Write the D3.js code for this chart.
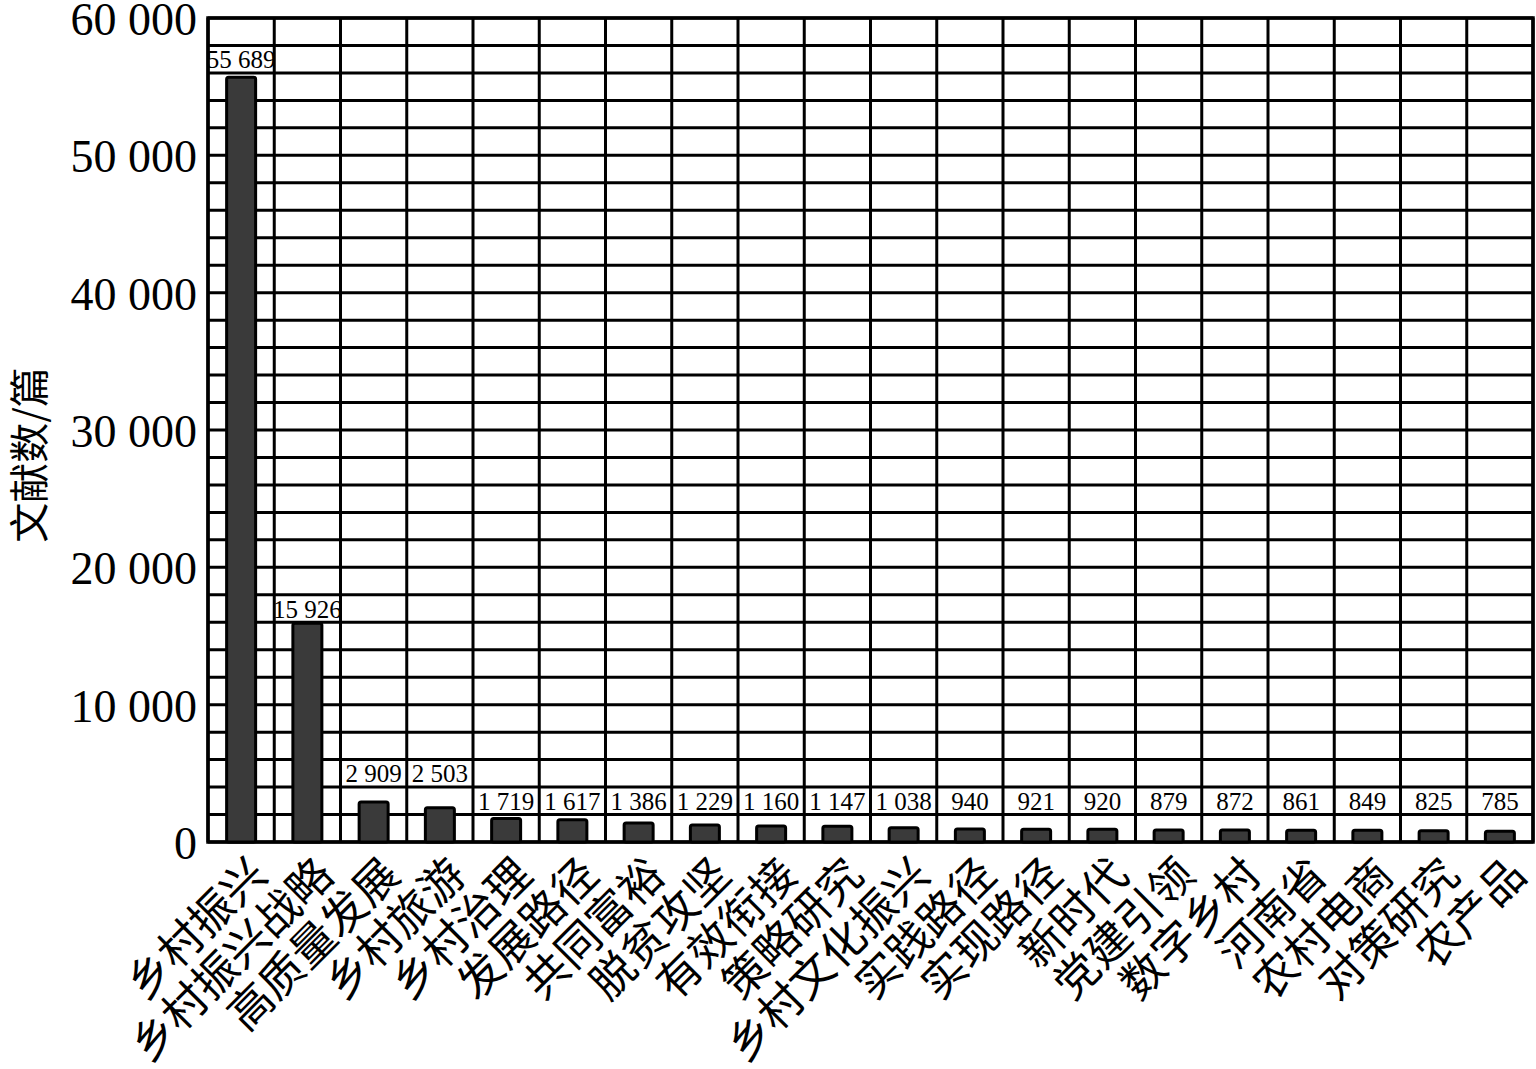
<!DOCTYPE html>
<html>
<head>
<meta charset="utf-8">
<script src="https://cdn.jsdelivr.net/npm/d3@7"></script>
<style>
  html, body { margin: 0; padding: 0; background: #fff; }
  svg { display: block; }
</style>
</head>
<body>
<svg id="chart" width="1536" height="1069"></svg>
<script>
// ---- data ----
const categories = ["乡村振兴","乡村振兴战略","高质量发展","乡村旅游","乡村治理","发展路径","共同富裕","脱贫攻坚","有效衔接","策略研究","乡村文化振兴","实践路径","实现路径","新时代","党建引领","数字乡村","河南省","农村电商","对策研究","农产品"];
const values = [55689,15926,2909,2503,1719,1617,1386,1229,1160,1147,1038,940,921,920,879,872,861,849,825,785];
const yTickValues = [0,10000,20000,30000,40000,50000,60000];
const yTitle = "文献数/篇";

// ---- layout ----
const plotL = 208, plotR = 1533, plotT = 18, plotB = 842;
const svg = d3.select("#chart");
const loc = d3.formatLocale({decimal: ".", thousands: " ", grouping: [3], currency: ["", ""]});
const fmt = loc.format(",d");

const x = d3.scaleBand().domain(categories).range([plotL, plotR]).padding(0);
const y = d3.scaleLinear().domain([0, 60000]).range([plotB, plotT]);
const barW = 29;
const serif = "'Liberation Serif','Times New Roman',serif";
const cjk = "'Noto Sans CJK SC','Noto Sans CJK JP',sans-serif";

// horizontal grid every 2000
const gridY = d3.range(0, 60001, 2000);
svg.append("g").selectAll("line").data(gridY).join("line")
  .attr("x1", plotL).attr("x2", plotR)
  .attr("y1", d => y(d)).attr("y2", d => y(d))
  .attr("stroke", "#000").attr("stroke-width", 3);

// vertical grid at band boundaries
const bounds = categories.map(c => x(c)).concat([plotR]);
svg.append("g").selectAll("line").data(bounds).join("line")
  .attr("x1", d => d).attr("x2", d => d)
  .attr("y1", plotT).attr("y2", plotB)
  .attr("stroke", "#000").attr("stroke-width", 3);

// frame
svg.append("rect").attr("x", plotL).attr("y", plotT).attr("width", plotR - plotL).attr("height", plotB - plotT)
  .attr("fill", "none").attr("stroke", "#000").attr("stroke-width", 3.5);

// bars
svg.append("g").selectAll("rect").data(values).join("rect")
  .attr("x", (d, i) => x(categories[i]) + x.bandwidth() / 2 - barW / 2)
  .attr("y", d => y(d))
  .attr("width", barW)
  .attr("height", d => y(0) - y(d))
  .attr("rx", 2)
  .attr("fill", "#3a3a3a").attr("stroke", "#000").attr("stroke-width", 3);

// value labels (placed in the grid cell above the bar top's cell)
svg.append("g").selectAll("text").data(values).join("text")
  .attr("x", (d, i) => x(categories[i]) + x.bandwidth() / 2)
  .attr("y", d => y((Math.floor(d / 2000) + 1.5) * 2000) + 9)
  .attr("text-anchor", "middle")
  .attr("font-family", serif).attr("font-size", 25)
  .attr("fill", "#000")
  .text(d => fmt(d));

// y tick labels
svg.append("g").selectAll("text").data(yTickValues).join("text")
  .attr("x", 197)
  .attr("y", d => y(d) + 17)
  .attr("text-anchor", "end")
  .attr("font-family", serif).attr("font-size", 46)
  .attr("fill", "#000")
  .text(d => fmt(d));

// y title
svg.append("text")
  .attr("transform", "translate(27,455) rotate(-90)")
  .attr("text-anchor", "middle").attr("dominant-baseline", "central")
  .attr("font-family", cjk).attr("font-size", 40)
  .attr("fill", "#000")
  .text(yTitle);

// category labels rotated -45
svg.append("g").selectAll("text").data(categories).join("text")
  .attr("transform", d => `translate(${x(d) + x.bandwidth() / 2 + 15},864) rotate(-45)`)
  .attr("text-anchor", "end").attr("dominant-baseline", "central")
  .attr("font-family", cjk).attr("font-size", 44)
  .attr("fill", "#000")
  .text(d => d);
</script>
</body>
</html>
